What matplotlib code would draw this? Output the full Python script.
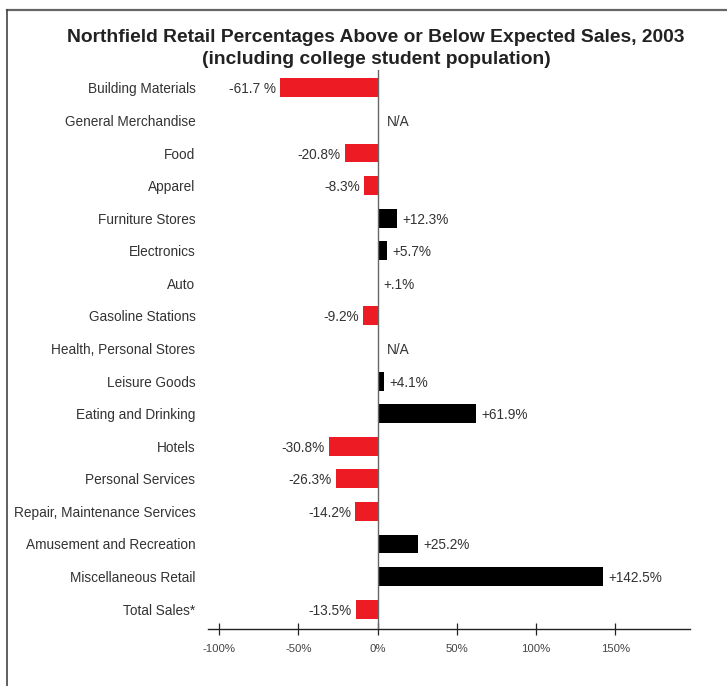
import matplotlib
matplotlib.use("Agg")
import matplotlib.pyplot as plt
from matplotlib.lines import Line2D
import numpy as np

plt.rcParams['font.family'] = ['Liberation Sans', 'DejaVu Sans']

categories = [
    "Building Materials", "General Merchandise", "Food", "Apparel",
    "Furniture Stores", "Electronics", "Auto", "Gasoline Stations",
    "Health, Personal Stores", "Leisure Goods", "Eating and Drinking",
    "Hotels", "Personal Services", "Repair, Maintenance Services",
    "Amusement and Recreation", "Miscellaneous Retail", "Total Sales*",
]
# Percent above (+) or below (-) expected sales; None = not available
values = [-61.7, None, -20.8, -8.3, 12.3, 5.7, 0.1, -9.2, None, 4.1,
          61.9, -30.8, -26.3, -14.2, 25.2, 142.5, -13.5]
value_labels = ["-61.7 %", "N/A", "-20.8%", "-8.3%", "+12.3%", "+5.7%",
                "+.1%", "-9.2%", "N/A", "+4.1%", "+61.9%", "-30.8%",
                "-26.3%", "-14.2%", "+25.2%", "+142.5%", "-13.5%"]
tick_values = [-100, -50, 0, 50, 100, 150]
tick_labels = ["-100%", "-50%", "0%", "50%", "100%", "150%"]

RED = "#ED1C24"
TEXT = "#333333"
FS = 9.8

fig = plt.figure(figsize=(7.27, 6.86), dpi=100)
ax = fig.add_axes([0.2861, 0.0831, 0.949 - 0.2861, 0.898 - 0.0831])

y = np.arange(len(categories))
for yi, v, lab in zip(y, values, value_labels):
    if v is None:
        ax.annotate(lab, (0, yi), xytext=(7, 0), textcoords="offset points",
                    ha="left", va="center_baseline", fontsize=FS, color=TEXT)
        continue
    color = RED if v < 0 else "black"
    ax.barh(yi, v, height=0.58, color=color, edgecolor="none", zorder=2)
    if v < 0:
        ax.annotate(lab, (v, yi), xytext=(-3, 0), textcoords="offset points",
                    ha="right", va="center_baseline", fontsize=FS, color=TEXT)
    else:
        ax.annotate(lab, (v, yi), xytext=(4, 0), textcoords="offset points",
                    ha="left", va="center_baseline", fontsize=FS, color=TEXT)

ax.axvline(0, color="#666666", lw=1.0, zorder=3)

ax.set_xlim(-107.1, 197.2)
ax.set_ylim(16.61, -0.55)
ax.set_yticks(y)
ax.set_yticklabels(categories, fontsize=FS, color=TEXT, va="center_baseline")
ax.tick_params(axis="y", length=0, pad=9)
ax.set_xticks(tick_values)
ax.set_xticklabels(tick_labels, fontsize=8.2, color="#444444")
ax.tick_params(axis="x", direction="inout", length=9, width=0.9,
               color="#222222", pad=6)

for side in ("top", "right", "left"):
    ax.spines[side].set_visible(False)
ax.spines["bottom"].set_color("#222222")
ax.spines["bottom"].set_linewidth(1.0)

fig.text(376 / 727, 1 - 38 / 686,
         "Northfield Retail Percentages Above or Below Expected Sales, 2003",
         ha="center", va="center", fontsize=13.9, fontweight="bold", color="#222222")
fig.text(376 / 727, 1 - 60 / 686, "(including college student population)",
         ha="center", va="center", fontsize=13.9, fontweight="bold", color="#222222")

# Frame lines along the top and left edges
fig.add_artist(Line2D([7 / 727, 1.0], [1 - 10 / 686, 1 - 10 / 686],
                      transform=fig.transFigure, color="#666666", lw=1.6))
fig.add_artist(Line2D([7 / 727, 7 / 727], [0.0, 1 - 10 / 686],
                      transform=fig.transFigure, color="#444444", lw=1.2))

fig.savefig("out.png", dpi=100)
